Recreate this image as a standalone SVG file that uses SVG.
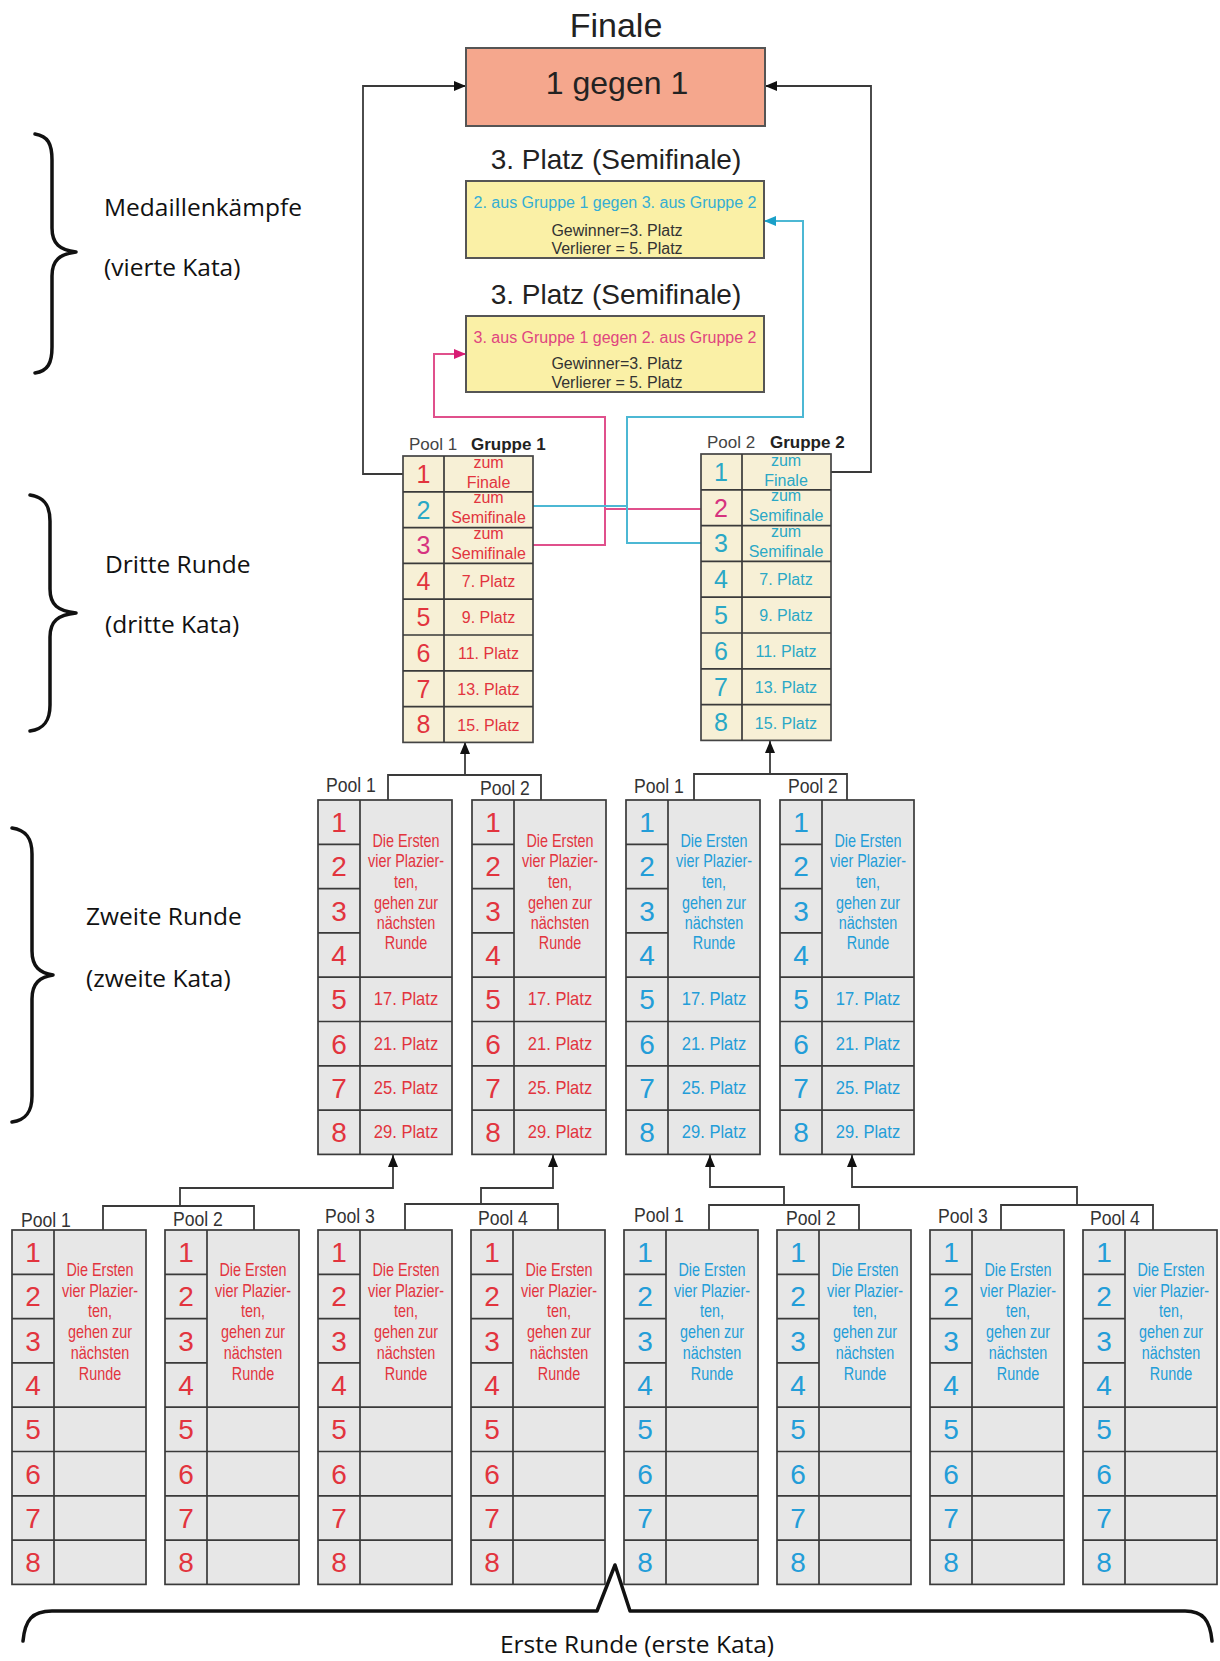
<svg xmlns="http://www.w3.org/2000/svg" xmlns:xlink="http://www.w3.org/1999/xlink" width="1220" height="1661" viewBox="0 0 1220 1661">
<style>
.cell{fill:#e7e7e7;stroke:#3a3a3a;stroke-width:1.7}
.cell3{fill:#f7f0d6;stroke:#444;stroke-width:1.7}
.grid{fill:none;stroke:#3a3a3a;stroke-width:1.7}
.num{font-family:"Liberation Sans",Arial,sans-serif;font-size:28px;text-anchor:middle}
.num3{font-family:"Liberation Sans",Arial,sans-serif;font-size:25px;text-anchor:middle}
.ct{font-family:"Liberation Sans",Arial,sans-serif;font-size:18px;text-anchor:middle}
.c3{font-family:"Liberation Sans",Arial,sans-serif;font-size:16px;text-anchor:middle}
.lbl{font-family:"Liberation Sans",Arial,sans-serif;font-size:20px;fill:#333}
.hdr{font-family:"Liberation Sans",Arial,sans-serif;font-size:17px;fill:#444}
.hdrb{font-family:"Liberation Sans",Arial,sans-serif;font-size:17px;font-weight:bold;fill:#222}
.side{font-family:"Open Sans","Noto Sans",sans-serif;font-size:24.5px;fill:#111}
.title{font-family:"Liberation Sans",Arial,sans-serif;text-anchor:middle;fill:#222}
.semi{font-family:"Liberation Sans",Arial,sans-serif;font-size:16px;text-anchor:middle}
.r{fill:#e2343e}.b{fill:#239dd8}.t{fill:#2aa8c6}.m{fill:#d6337f}.g{fill:#333}
.wire{fill:none;stroke:#3a3a3a;stroke-width:1.8}
.pw{fill:none;stroke:#e0508c;stroke-width:2}
.tw{fill:none;stroke:#4cb8d4;stroke-width:2}
.brace{fill:none;stroke:#111;stroke-width:3.5;stroke-linecap:round;stroke-linejoin:round}
</style>
<defs>
<marker id="ak" viewBox="0 0 12 10" refX="12" refY="5" markerWidth="12" markerHeight="10" markerUnits="userSpaceOnUse" orient="auto"><path d="M0 0L12 5L0 10z" fill="#111"/></marker>
<marker id="ap" viewBox="0 0 12 10" refX="12" refY="5" markerWidth="12" markerHeight="10" markerUnits="userSpaceOnUse" orient="auto"><path d="M0 0L12 5L0 10z" fill="#d81b74"/></marker>
<marker id="at" viewBox="0 0 12 10" refX="12" refY="5" markerWidth="12" markerHeight="10" markerUnits="userSpaceOnUse" orient="auto"><path d="M0 0L12 5L0 10z" fill="#1aa0c8"/></marker>
<g id="pf"><rect class="cell" width="134" height="354.4"/><path class="grid" d="M42 0V354.4M0 44.3H42M0 88.6H42M0 132.9H42M0 177.2H134M0 221.5H134M0 265.8H134M0 310.1H134"/></g>
<g id="gf"><rect class="cell3" width="130" height="286.4"/><path class="grid" d="M41 0V286.4M0 35.8H130M0 71.6H130M0 107.4H130M0 143.2H130M0 179H130M0 214.8H130M0 250.6H130"/></g>
</defs>
<rect width="1220" height="1661" fill="#fff"/>

<g id="side-labels">
<path class="brace" d="M35 134C48 136 52 144 52 160V228C52 244 60 250 76 252C60 254 52 260 52 276V347C52 363 48 371 35 373"/>
<text class="side" x="104" y="216">Medaillenkämpfe</text>
<text class="side" x="104" y="276">(vierte Kata)</text>
<path class="brace" d="M30 495C44 497 50 505 50 521V589C50 605 58 611 76 613C58 615 50 621 50 637V705C50 721 44 729 30 731"/>
<text class="side" x="105" y="573">Dritte Runde</text>
<text class="side" x="105" y="633">(dritte Kata)</text>
<path class="brace" d="M12 828C26 830 32 838 32 854V951C32 967 40 973 53 975C40 977 32 983 32 999V1096C32 1112 26 1120 12 1122"/>
<text class="side" x="86" y="925">Zweite Runde</text>
<text class="side" x="86" y="987">(zweite Kata)</text>
<path class="brace" d="M23 1641C25 1620 32 1611 52 1611H597L615 1565L630 1611H1185C1203 1611 1210 1620 1212 1641"/>
<text class="side" x="637" y="1653" text-anchor="middle">Erste Runde (erste Kata)</text>
</g>

<g id="connectors">
<path class="wire" d="M403 474H363V86H466" marker-end="url(#ak)"/>
<path class="wire" d="M830 472H871V86H765" marker-end="url(#ak)"/>
<path class="pw" d="M533 545H605V417H434V354H466" marker-end="url(#ap)"/>
<path class="pw" d="M701 509H605"/>
<path class="tw" d="M701 543H627V417H803V221H764" marker-end="url(#at)"/>
<path class="tw" d="M533 506H627"/>
<path class="wire" d="M388 800V775H541V800"/>
<path class="wire" d="M465 775V742" marker-end="url(#ak)"/>
<path class="wire" d="M694 800V774H847V800"/>
<path class="wire" d="M770 774V741" marker-end="url(#ak)"/>
<path class="wire" d="M103 1230V1206H254V1230"/>
<path class="wire" d="M180 1206V1188H393V1155" marker-end="url(#ak)"/>
<path class="wire" d="M405 1230V1204H558V1230"/>
<path class="wire" d="M481 1204V1188H553V1155" marker-end="url(#ak)"/>
<path class="wire" d="M709 1230V1205H859V1230"/>
<path class="wire" d="M784 1205V1187H710V1155" marker-end="url(#ak)"/>
<path class="wire" d="M1001 1230V1205H1153V1230"/>
<path class="wire" d="M1077 1205V1187H852V1155" marker-end="url(#ak)"/>
</g>

<g id="finale">
<text class="title" x="616" y="37" font-size="34">Finale</text>
<rect x="466" y="48" width="299" height="78" fill="#f5a78d" stroke="#555" stroke-width="2"/>
<text class="title" x="617" y="94" font-size="32">1 gegen 1</text>
</g>

<g id="semifinale-1">
<text class="title" x="616" y="169" font-size="28">3. Platz (Semifinale)</text>
<rect x="466" y="181" width="298" height="77" fill="#faf0a6" stroke="#555" stroke-width="2"/>
<text class="semi" x="615" y="208" fill="#34aed4">2. aus Gruppe 1 gegen 3. aus Gruppe 2</text>
<text class="semi g" x="617" y="236" font-size="16.5">Gewinner=3. Platz</text>
<text class="semi g" x="617" y="254" font-size="16.5">Verlierer = 5. Platz</text>
</g>

<g id="semifinale-2">
<text class="title" x="616" y="304" font-size="28">3. Platz (Semifinale)</text>
<rect x="466" y="316" width="298" height="76" fill="#faf0a6" stroke="#555" stroke-width="2"/>
<text class="semi" x="615" y="343" fill="#e0457f">3. aus Gruppe 1 gegen 2. aus Gruppe 2</text>
<text class="semi g" x="617" y="369" font-size="16.5">Gewinner=3. Platz</text>
<text class="semi g" x="617" y="388" font-size="16.5">Verlierer = 5. Platz</text>
</g>

<g id="r3-gruppe-1">
<text class="hdr" x="409" y="450">Pool 1</text>
<text class="hdrb" x="471" y="450">Gruppe 1</text>
<use xlink:href="#gf" x="403" y="456"/>
<g class="num3">
<text class="r" x="423.5" y="483">1</text>
<text class="t" x="423.5" y="519">2</text>
<text class="m" x="423.5" y="554">3</text>
<text class="r" x="423.5" y="590">4</text>
<text class="r" x="423.5" y="626">5</text>
<text class="r" x="423.5" y="662">6</text>
<text class="r" x="423.5" y="698">7</text>
<text class="r" x="423.5" y="733">8</text>
</g>
<g class="c3 r">
<text x="488.5" y="467.5">zum</text><text x="488.5" y="487.5">Finale</text>
<text x="488.5" y="503.3">zum</text><text x="488.5" y="523.3">Semifinale</text>
<text x="488.5" y="539.1">zum</text><text x="488.5" y="559.1">Semifinale</text>
<text x="488.5" y="587.3">7. Platz</text>
<text x="488.5" y="623.1">9. Platz</text>
<text x="488.5" y="658.9">11. Platz</text>
<text x="488.5" y="694.7">13. Platz</text>
<text x="488.5" y="730.5">15. Platz</text>
</g>
</g>

<g id="r3-gruppe-2">
<text class="hdr" x="707" y="448">Pool 2</text>
<text class="hdrb" x="770" y="448">Gruppe 2</text>
<use xlink:href="#gf" x="701" y="454"/>
<g class="num3">
<text class="t" x="721" y="481">1</text>
<text class="m" x="721" y="517">2</text>
<text class="t" x="721" y="552">3</text>
<text class="t" x="721" y="588">4</text>
<text class="t" x="721" y="624">5</text>
<text class="t" x="721" y="660">6</text>
<text class="t" x="721" y="696">7</text>
<text class="t" x="721" y="731">8</text>
</g>
<g class="c3 t">
<text x="786" y="465.5">zum</text><text x="786" y="485.5">Finale</text>
<text x="786" y="501.3">zum</text><text x="786" y="521.3">Semifinale</text>
<text x="786" y="537.1">zum</text><text x="786" y="557.1">Semifinale</text>
<text x="786" y="585.3">7. Platz</text>
<text x="786" y="621.1">9. Platz</text>
<text x="786" y="656.9">11. Platz</text>
<text x="786" y="692.7">13. Platz</text>
<text x="786" y="728.5">15. Platz</text>
</g>
</g>

<g id="r2-red-pool1">
<text class="lbl" transform="translate(326 792) scale(.88 1)">Pool 1</text>
<use xlink:href="#pf" x="318" y="800"/>
<g class="num r"><text x="339" y="832">1</text><text x="339" y="876">2</text><text x="339" y="921">3</text><text x="339" y="965">4</text><text x="339" y="1009">5</text><text x="339" y="1054">6</text><text x="339" y="1098">7</text><text x="339" y="1142">8</text></g>
<g class="ct r" transform="translate(406 0) scale(.8 1)"><text y="847">Die Ersten</text><text y="867">vier Plazier-</text><text y="888">ten,</text><text y="909">gehen zur</text><text y="929">nächsten</text><text y="949">Runde</text></g>
<g class="ct r" transform="translate(406 0) scale(.92 1)"><text y="1005">17. Platz</text><text y="1050">21. Platz</text><text y="1094">25. Platz</text><text y="1138">29. Platz</text></g>
</g>

<g id="r2-red-pool2">
<text class="lbl" transform="translate(480 795) scale(.88 1)">Pool 2</text>
<use xlink:href="#pf" x="472" y="800"/>
<g class="num r"><text x="493" y="832">1</text><text x="493" y="876">2</text><text x="493" y="921">3</text><text x="493" y="965">4</text><text x="493" y="1009">5</text><text x="493" y="1054">6</text><text x="493" y="1098">7</text><text x="493" y="1142">8</text></g>
<g class="ct r" transform="translate(560 0) scale(.8 1)"><text y="847">Die Ersten</text><text y="867">vier Plazier-</text><text y="888">ten,</text><text y="909">gehen zur</text><text y="929">nächsten</text><text y="949">Runde</text></g>
<g class="ct r" transform="translate(560 0) scale(.92 1)"><text y="1005">17. Platz</text><text y="1050">21. Platz</text><text y="1094">25. Platz</text><text y="1138">29. Platz</text></g>
</g>

<g id="r2-blue-pool1">
<text class="lbl" transform="translate(634 793) scale(.88 1)">Pool 1</text>
<use xlink:href="#pf" x="626" y="800"/>
<g class="num b"><text x="647" y="832">1</text><text x="647" y="876">2</text><text x="647" y="921">3</text><text x="647" y="965">4</text><text x="647" y="1009">5</text><text x="647" y="1054">6</text><text x="647" y="1098">7</text><text x="647" y="1142">8</text></g>
<g class="ct b" transform="translate(714 0) scale(.8 1)"><text y="847">Die Ersten</text><text y="867">vier Plazier-</text><text y="888">ten,</text><text y="909">gehen zur</text><text y="929">nächsten</text><text y="949">Runde</text></g>
<g class="ct b" transform="translate(714 0) scale(.92 1)"><text y="1005">17. Platz</text><text y="1050">21. Platz</text><text y="1094">25. Platz</text><text y="1138">29. Platz</text></g>
</g>

<g id="r2-blue-pool2">
<text class="lbl" transform="translate(788 793) scale(.88 1)">Pool 2</text>
<use xlink:href="#pf" x="780" y="800"/>
<g class="num b"><text x="801" y="832">1</text><text x="801" y="876">2</text><text x="801" y="921">3</text><text x="801" y="965">4</text><text x="801" y="1009">5</text><text x="801" y="1054">6</text><text x="801" y="1098">7</text><text x="801" y="1142">8</text></g>
<g class="ct b" transform="translate(868 0) scale(.8 1)"><text y="847">Die Ersten</text><text y="867">vier Plazier-</text><text y="888">ten,</text><text y="909">gehen zur</text><text y="929">nächsten</text><text y="949">Runde</text></g>
<g class="ct b" transform="translate(868 0) scale(.92 1)"><text y="1005">17. Platz</text><text y="1050">21. Platz</text><text y="1094">25. Platz</text><text y="1138">29. Platz</text></g>
</g>

<g id="r1-red-pool1">
<text class="lbl" transform="translate(21 1227) scale(.88 1)">Pool 1</text>
<use xlink:href="#pf" x="12" y="1230"/>
<g class="num r"><text x="33" y="1262">1</text><text x="33" y="1306">2</text><text x="33" y="1351">3</text><text x="33" y="1395">4</text><text x="33" y="1439">5</text><text x="33" y="1484">6</text><text x="33" y="1528">7</text><text x="33" y="1572">8</text></g>
<g class="ct r" transform="translate(100 0) scale(.8 1)"><text y="1276">Die Ersten</text><text y="1297">vier Plazier-</text><text y="1317">ten,</text><text y="1338">gehen zur</text><text y="1359">nächsten</text><text y="1380">Runde</text></g>
</g>

<g id="r1-red-pool2">
<text class="lbl" transform="translate(173 1226) scale(.88 1)">Pool 2</text>
<use xlink:href="#pf" x="165" y="1230"/>
<g class="num r"><text x="186" y="1262">1</text><text x="186" y="1306">2</text><text x="186" y="1351">3</text><text x="186" y="1395">4</text><text x="186" y="1439">5</text><text x="186" y="1484">6</text><text x="186" y="1528">7</text><text x="186" y="1572">8</text></g>
<g class="ct r" transform="translate(253 0) scale(.8 1)"><text y="1276">Die Ersten</text><text y="1297">vier Plazier-</text><text y="1317">ten,</text><text y="1338">gehen zur</text><text y="1359">nächsten</text><text y="1380">Runde</text></g>
</g>

<g id="r1-red-pool3">
<text class="lbl" transform="translate(325 1223) scale(.88 1)">Pool 3</text>
<use xlink:href="#pf" x="318" y="1230"/>
<g class="num r"><text x="339" y="1262">1</text><text x="339" y="1306">2</text><text x="339" y="1351">3</text><text x="339" y="1395">4</text><text x="339" y="1439">5</text><text x="339" y="1484">6</text><text x="339" y="1528">7</text><text x="339" y="1572">8</text></g>
<g class="ct r" transform="translate(406 0) scale(.8 1)"><text y="1276">Die Ersten</text><text y="1297">vier Plazier-</text><text y="1317">ten,</text><text y="1338">gehen zur</text><text y="1359">nächsten</text><text y="1380">Runde</text></g>
</g>

<g id="r1-red-pool4">
<text class="lbl" transform="translate(478 1225) scale(.88 1)">Pool 4</text>
<use xlink:href="#pf" x="471" y="1230"/>
<g class="num r"><text x="492" y="1262">1</text><text x="492" y="1306">2</text><text x="492" y="1351">3</text><text x="492" y="1395">4</text><text x="492" y="1439">5</text><text x="492" y="1484">6</text><text x="492" y="1528">7</text><text x="492" y="1572">8</text></g>
<g class="ct r" transform="translate(559 0) scale(.8 1)"><text y="1276">Die Ersten</text><text y="1297">vier Plazier-</text><text y="1317">ten,</text><text y="1338">gehen zur</text><text y="1359">nächsten</text><text y="1380">Runde</text></g>
</g>

<g id="r1-blue-pool1">
<text class="lbl" transform="translate(634 1222) scale(.88 1)">Pool 1</text>
<use xlink:href="#pf" x="624" y="1230"/>
<g class="num b"><text x="645" y="1262">1</text><text x="645" y="1306">2</text><text x="645" y="1351">3</text><text x="645" y="1395">4</text><text x="645" y="1439">5</text><text x="645" y="1484">6</text><text x="645" y="1528">7</text><text x="645" y="1572">8</text></g>
<g class="ct b" transform="translate(712 0) scale(.8 1)"><text y="1276">Die Ersten</text><text y="1297">vier Plazier-</text><text y="1317">ten,</text><text y="1338">gehen zur</text><text y="1359">nächsten</text><text y="1380">Runde</text></g>
</g>

<g id="r1-blue-pool2">
<text class="lbl" transform="translate(786 1225) scale(.88 1)">Pool 2</text>
<use xlink:href="#pf" x="777" y="1230"/>
<g class="num b"><text x="798" y="1262">1</text><text x="798" y="1306">2</text><text x="798" y="1351">3</text><text x="798" y="1395">4</text><text x="798" y="1439">5</text><text x="798" y="1484">6</text><text x="798" y="1528">7</text><text x="798" y="1572">8</text></g>
<g class="ct b" transform="translate(865 0) scale(.8 1)"><text y="1276">Die Ersten</text><text y="1297">vier Plazier-</text><text y="1317">ten,</text><text y="1338">gehen zur</text><text y="1359">nächsten</text><text y="1380">Runde</text></g>
</g>

<g id="r1-blue-pool3">
<text class="lbl" transform="translate(938 1223) scale(.88 1)">Pool 3</text>
<use xlink:href="#pf" x="930" y="1230"/>
<g class="num b"><text x="951" y="1262">1</text><text x="951" y="1306">2</text><text x="951" y="1351">3</text><text x="951" y="1395">4</text><text x="951" y="1439">5</text><text x="951" y="1484">6</text><text x="951" y="1528">7</text><text x="951" y="1572">8</text></g>
<g class="ct b" transform="translate(1018 0) scale(.8 1)"><text y="1276">Die Ersten</text><text y="1297">vier Plazier-</text><text y="1317">ten,</text><text y="1338">gehen zur</text><text y="1359">nächsten</text><text y="1380">Runde</text></g>
</g>

<g id="r1-blue-pool4">
<text class="lbl" transform="translate(1090 1225) scale(.88 1)">Pool 4</text>
<use xlink:href="#pf" x="1083" y="1230"/>
<g class="num b"><text x="1104" y="1262">1</text><text x="1104" y="1306">2</text><text x="1104" y="1351">3</text><text x="1104" y="1395">4</text><text x="1104" y="1439">5</text><text x="1104" y="1484">6</text><text x="1104" y="1528">7</text><text x="1104" y="1572">8</text></g>
<g class="ct b" transform="translate(1171 0) scale(.8 1)"><text y="1276">Die Ersten</text><text y="1297">vier Plazier-</text><text y="1317">ten,</text><text y="1338">gehen zur</text><text y="1359">nächsten</text><text y="1380">Runde</text></g>
</g>
</svg>
